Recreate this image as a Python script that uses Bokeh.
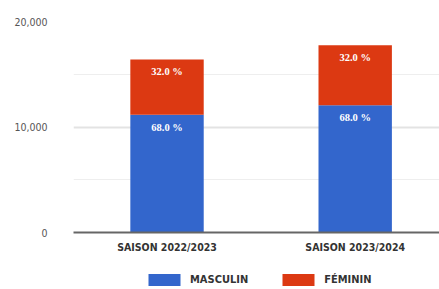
from bokeh.plotting import figure
from bokeh.layouts import column
from bokeh.models import (ColumnDataSource, Range1d, FixedTicker, Legend, LegendItem,
                          LabelSet, NumeralTickFormatter)
from bokeh.embed import file_html
from bokeh.resources import INLINE

categories = ["SAISON 2022/2023", "SAISON 2023/2024"]
masculin = [11150, 12070]
feminin = [5250, 5680]
series_names = ["MASCULIN", "FÉMININ"]
y_ticks = [0, 10000, 20000]
y_minor = [5000, 15000]

FONT = "DejaVu Sans Condensed"
BLUE = "#3366cc"
RED = "#dc3912"

xs = list(range(len(categories)))
totals = [m + f for m, f in zip(masculin, feminin)]
src = ColumnDataSource(dict(
    x=xs, m=masculin, f=feminin, t=totals,
    mlab=[f"{100*m/t:.1f} %" for m, t in zip(masculin, totals)],
    flab=[f"{100*f/t:.1f} %" for f, t in zip(feminin, totals)],
))

p = figure(frame_width=366, frame_height=211, output_backend="svg", toolbar_location=None,
           x_range=Range1d(-0.497, 1.448), y_range=Range1d(0, 20000),
           min_border_left=73, min_border_right=0, min_border_top=21, min_border_bottom=30)
p.outline_line_color = None
p.background_fill_color = "white"
p.border_fill_color = "white"

p.vbar(x="x", bottom=0, top="m", width=0.39, source=src, fill_color=BLUE, line_color=None)
p.vbar(x="x", bottom="m", top="t", width=0.39, source=src, fill_color=RED, line_color=None)

p.add_layout(LabelSet(x="x", y="t", text="flab", source=src, text_align="center",
                      text_baseline="top", y_offset=-7, text_color="white",
                      text_font=FONT, text_font_style="bold", text_font_size="10.5px"))
p.add_layout(LabelSet(x="x", y="m", text="mlab", source=src, text_align="center",
                      text_baseline="top", y_offset=-7, text_color="white",
                      text_font=FONT, text_font_style="bold", text_font_size="10.5px"))

p.xaxis.ticker = FixedTicker(ticks=xs)
p.xaxis.major_label_overrides = {i: c for i, c in enumerate(categories)}
p.xaxis.major_tick_line_color = None
p.xaxis.minor_tick_line_color = None
p.xaxis.axis_line_color = "#666666"
p.xaxis.axis_line_width = 2
p.xaxis.major_label_text_font = FONT
p.xaxis.major_label_text_font_style = "bold"
p.xaxis.major_label_text_font_size = "10.5px"
p.xaxis.major_label_text_color = "#333333"
p.xaxis.major_label_standoff = 2
p.xgrid.grid_line_color = None

p.yaxis.ticker = FixedTicker(ticks=y_ticks, minor_ticks=y_minor)
p.yaxis.formatter = NumeralTickFormatter(format="0,0")
p.yaxis.axis_line_color = None
p.yaxis.major_tick_line_color = None
p.yaxis.minor_tick_line_color = None
p.yaxis.major_label_text_font = FONT
p.yaxis.major_label_text_font_size = "10.5px"
p.yaxis.major_label_text_color = "#555555"
p.yaxis.major_label_standoff = 20
p.ygrid.grid_line_color = "#e3e3e3"
p.ygrid.grid_line_width = 2
p.ygrid.minor_grid_line_color = "#eeeeee"
p.ygrid.minor_grid_line_width = 1

# legend strip under the chart
lg = figure(width=439, height=27, output_backend="svg", toolbar_location=None,
            x_range=Range1d(0, 1), y_range=Range1d(0, 1), min_border=0)
lg.axis.visible = False
lg.grid.grid_line_color = None
lg.outline_line_color = None
offscreen = dict(x=[10], y=[10])
g1 = lg.vbar(x="x", top="y", width=1, source=ColumnDataSource(offscreen), fill_color=BLUE, line_color=None)
g2 = lg.vbar(x="x", top="y", width=1, source=ColumnDataSource(offscreen), fill_color=RED, line_color=None)
legend = Legend(items=[LegendItem(label=series_names[0], renderers=[g1]),
                       LegendItem(label=series_names[1], renderers=[g2])],
                location=(71, 2), orientation="horizontal",
                glyph_width=40, glyph_height=15, label_height=15, label_standoff=6, spacing=30,
                padding=0, margin=0, border_line_color=None, background_fill_alpha=0,
                label_text_font=FONT, label_text_font_style="bold",
                label_text_font_size="11px", label_text_color="#333333")
lg.add_layout(legend, "center")

layout = column(p, lg, spacing=0)
open("out.html", "w").write(file_html(layout, INLINE))
